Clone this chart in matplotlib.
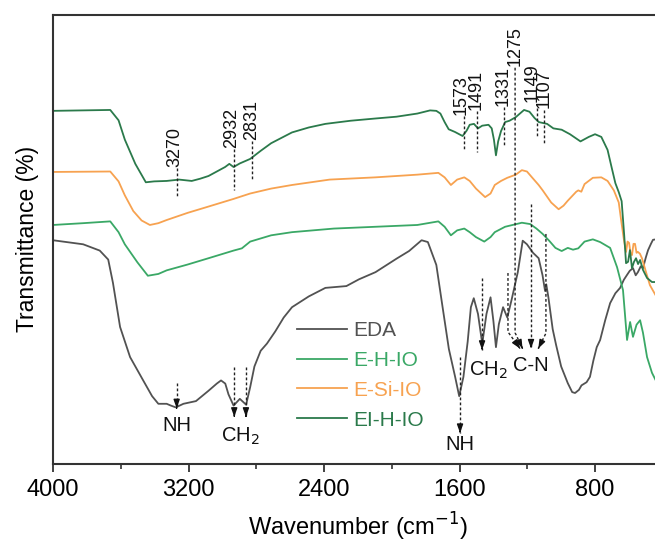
import numpy as np
import matplotlib.pyplot as plt

plt.rcParams['font.family'] = ['Liberation Sans', 'DejaVu Sans']

# EDA
eda_wn = [4000, 3822, 3724, 3674, 3646, 3604, 3545, 3469, 3415, 3378, 3329, 3304, 3275, 3230,
          3156, 3082, 3033, 3008, 2983, 2964, 2934, 2897, 2860, 2836, 2811, 2774, 2737, 2688,
          2638, 2589, 2490, 2392, 2268, 2194, 2096, 1972, 1898, 1824, 1787, 1737, 1700, 1663,
          1626, 1602, 1577, 1552, 1533, 1516, 1491, 1466, 1441, 1417, 1400, 1385, 1368, 1343,
          1318, 1293, 1256, 1227, 1202, 1166, 1133, 1110, 1095, 1088, 1075, 1050, 1030, 1000,
          961, 935, 918, 895, 880, 850, 830, 810, 790, 770, 740, 711, 680, 652, 630, 611, 595,
          576, 560, 547, 530, 517, 500, 487, 470, 458, 440]
eda_t = [49.8, 48.9, 47.5, 45.5, 40.3, 30.5, 23.8, 18.7, 15.1, 13.4, 13.4, 13.0, 12.6, 13.4,
         14.0, 16.3, 17.9, 18.6, 17.9, 15.5, 13.0, 14.5, 13.2, 17.1, 21.7, 25.2, 26.8, 29.5,
         32.6, 34.9, 37.3, 39.2, 39.6, 41.1, 42.7, 45.7, 47.4, 49.8, 49.4, 44.3, 34.9, 25.6,
         19.4, 15.1, 19.4, 27.2, 34.9, 36.9, 33.4, 26.8, 33.4, 37.1, 31.8, 26.0, 31.1, 34.9,
         32.6, 36.5, 42.7, 49.7, 48.9, 47.0, 45.8, 42.0, 38.5, 40.0, 37.0, 30.0, 26.5, 21.7,
         18.0, 16.0, 15.8, 16.5, 17.5, 18.2, 19.4, 23.0, 26.0, 27.6, 32.0, 35.8, 38.0, 39.2,
         41.0, 42.1, 43.0, 43.6, 42.0, 42.7, 44.0, 43.6, 46.0, 47.6, 49.0, 49.9, 50.0]

# E-H-IO
ehio_wn = [4000, 3822, 3662, 3613, 3576, 3502, 3440, 3378, 3329, 3205, 3082, 2934, 2885, 2836,
           2712, 2589, 2342, 2096, 1849, 1725, 1688, 1651, 1614, 1572, 1540, 1503, 1454, 1417,
           1392, 1331, 1232, 1183, 1146, 1109, 1071, 1034, 997, 961, 930, 899, 862, 813, 770,
           711, 670, 635, 611, 593, 576, 555, 534, 517, 493, 464, 440]
ehio_t = [53.2, 53.6, 54.0, 51.6, 48.9, 44.9, 41.9, 42.3, 43.1, 44.4, 45.8, 47.5, 48.0, 49.5,
          50.9, 51.6, 52.4, 52.8, 53.2, 54.0, 52.8, 50.9, 52.0, 52.4, 51.6, 50.5, 49.5, 50.5,
          51.6, 52.8, 53.7, 53.4, 52.4, 51.2, 49.7, 48.1, 47.4, 48.1, 47.7, 48.0, 49.5, 50.0,
          49.4, 48.1, 43.8, 38.7, 27.6, 31.6, 28.3, 31.0, 32.0, 29.2, 23.8, 20.3, 18.5]

# E-Si-IO
esio_wn = [4000, 3662, 3613, 3576, 3526, 3477, 3428, 3378, 3329, 3205, 3082, 2934, 2836, 2712,
           2589, 2367, 2096, 1849, 1725, 1688, 1651, 1614, 1572, 1540, 1503, 1449, 1417, 1392,
           1355, 1318, 1268, 1232, 1202, 1170, 1133, 1109, 1059, 1015, 986, 961, 911, 899, 881,
           862, 813, 763, 726, 689, 660, 645, 630, 617, 608, 599, 590, 582, 573, 564, 555, 547,
           535, 523, 499, 476, 440]
esio_t = [65.0, 65.1, 62.9, 59.8, 56.3, 54.2, 53.2, 53.6, 54.3, 55.9, 57.3, 59.0, 60.2, 61.3,
          62.1, 63.3, 63.8, 64.4, 64.8, 63.8, 62.1, 63.3, 63.8, 63.0, 61.3, 59.4, 60.2, 62.1,
          63.0, 63.7, 64.4, 65.4, 65.1, 63.7, 62.1, 60.9, 58.2, 56.7, 57.5, 58.6, 60.6, 60.9,
          60.6, 62.3, 63.7, 63.8, 63.0, 60.9, 58.2, 54.0, 50.0, 47.2, 49.5, 49.2, 46.8, 46.5,
          49.0, 49.0, 47.0, 47.2, 46.8, 45.8, 42.7, 39.8, 37.4]

# EI-H-IO
eihio_wn = [4000, 3662, 3613, 3576, 3514, 3452, 3403, 3329, 3255, 3181, 3131, 3082, 3033, 2984,
            2959, 2934, 2897, 2836, 2774, 2712, 2589, 2490, 2392, 2243, 2096, 1972, 1849, 1774,
            1737, 1713, 1688, 1664, 1627, 1582, 1558, 1540, 1515, 1491, 1466, 1429, 1410, 1397,
            1385, 1372, 1355, 1331, 1305, 1268, 1219, 1187, 1157, 1132, 1108, 1083, 1046, 997,
            948, 886, 837, 800, 763, 726, 702, 680, 660, 643, 628, 617, 605, 594, 582, 570, 558,
            546, 534, 517, 493, 464, 440]
eihio_t = [78.6, 78.8, 76.5, 72.2, 66.8, 62.7, 62.9, 63.0, 63.3, 63.0, 63.5, 64.1, 65.1, 66.1,
           66.8, 66.1, 66.9, 67.9, 69.7, 71.4, 73.8, 74.9, 75.7, 76.4, 76.9, 77.3, 78.0, 78.7,
           78.6, 78.0, 76.1, 74.5, 73.9, 73.0, 74.2, 75.5, 75.7, 74.7, 75.3, 75.5, 74.7, 72.2,
           68.7, 71.8, 74.1, 76.1, 76.4, 77.2, 78.8, 78.4, 77.0, 76.1, 75.9, 75.7, 74.7, 74.4,
           73.4, 71.8, 72.8, 73.4, 72.8, 69.9, 66.0, 62.5, 60.5, 58.5, 51.0, 44.7, 45.0, 47.6,
           43.6, 45.0, 45.8, 44.5, 45.4, 43.2, 41.4, 40.5, 40.5]

names = ['EDA', 'E-H-IO', 'E-Si-IO', 'EI-H-IO']
colors = ['#525252', '#3aa866', '#f7a250', '#2b7a4b']

# peak labels on EI-H-IO
peak_lbl = ['3270', '2932', '2831', '1573', '1491', '1331', '1149', '1107']
peak_x = [3270, 2931, 2828, 1573, 1498, 1336, 1144, 1101]
peak_top = [65.8, 70.0, 71.9, 77.4, 78.5, 79.4, 79.2, 78.8]
peak_bot = [59.4, 60.9, 63.3, 69.7, 69.5, 71.0, 72.8, 71.0]
label_x = [3282, 2947, 2830, 1592, 1504, 1345, 1172, 1102]
label_y = [66.0, 70.3, 72.2, 77.7, 78.8, 79.6, 80.6, 79.3]

fig = plt.figure(figsize=(6.55, 5.47), dpi=100)
ax = fig.add_axes([53 / 655, 83 / 547, 609.8 / 655, 449.3 / 547])

series = [(eda_wn, eda_t), (ehio_wn, ehio_t), (esio_wn, esio_t), (eihio_wn, eihio_t)]
for (wn, t), name, c in zip(series, names, colors):
    ax.plot(wn, t, color=c, lw=1.3, label=name)

ax.set_xlim(4000, 400)
ax.set_ylim(0, 100)
ax.set_xticks([4000, 3200, 2400, 1600, 800])
ax.set_xticks([3600, 2800, 2000, 1200, 400], minor=True)
ax.set_yticks([])
for s in ax.spines.values():
    s.set_linewidth(1.5)
    s.set_color('#333333')
ax.tick_params(axis='x', which='major', direction='out', length=6, width=1.3,
               labelsize=17, pad=5, colors='#333333', labelcolor='black')
ax.tick_params(axis='x', which='minor', direction='out', length=3.5, width=1.2, colors='#333333')
ax.set_xlabel('Wavenumber (cm$^{-1}$)', fontsize=17, labelpad=7)
ax.set_ylabel('Transmittance (%)', fontsize=16.5, labelpad=10)

dash = dict(color='#222222', lw=1.0, ls=(0, (2, 1.6)))
tc = '#111111'

for x, lbl, top, bot, lx, ly in zip(peak_x, peak_lbl, peak_top, peak_bot, label_x, label_y):
    ax.plot([x, x], [top, bot], **dash)
    ax.text(lx, ly, lbl, rotation=90, ha='center', va='bottom', fontsize=13, color=tc)

# 1275 label with long line down to C-N
ax.text(1272, 88.6, '1275', rotation=90, ha='center', va='bottom', fontsize=13, color=tc)


def arrow(xs, ys):
    ax.plot(xs, ys, **dash)
    dx = xs[-1] - xs[-2]
    dy = ys[-1] - ys[-2]
    ax.annotate('', xy=(xs[-1], ys[-1]), xytext=(xs[-1] - dx * 0.02, ys[-1] - dy * 0.02),
                arrowprops=dict(arrowstyle='-|>,head_length=0.5,head_width=0.18',
                                color='#111111', lw=1.0, shrinkA=0, shrinkB=0))


arrow([1314, 1314, 1243], [42.5, 29.4, 25.7])
arrow([1272, 1272, 1228], [88.2, 29.2, 25.7])
arrow([1178, 1178], [57.8, 25.7])
arrow([1090, 1090, 1135], [51.2, 29.1, 25.7])
ax.text(1180, 22.0, 'C-N', ha='center', va='center', fontsize=14.5, color=tc)

arrow([1467, 1467], [41.4, 25.4])
ax.text(1430, 23.3, 'CH$_2$', ha='center', va='top', fontsize=14.5, color=tc)

arrow([1597, 1597], [23.8, 6.9])
ax.text(1597, 6.4, 'NH', ha='center', va='top', fontsize=14.5, color=tc)

arrow([3270, 3270], [18.0, 12.4])
ax.text(3270, 10.6, 'NH', ha='center', va='top', fontsize=14.5, color=tc)

arrow([2930, 2930], [21.7, 10.5])
arrow([2861, 2861], [21.5, 10.5])
ax.text(2893, 8.6, 'CH$_2$', ha='center', va='top', fontsize=14.5, color=tc)

ax.legend(loc='upper left', bbox_to_anchor=(0.400, 0.318), frameon=False, fontsize=15,
          handlelength=2.4, handletextpad=0.31, labelspacing=0.52, borderpad=0,
          borderaxespad=0, labelcolor='linecolor')

fig.savefig('out.png', dpi=100)
